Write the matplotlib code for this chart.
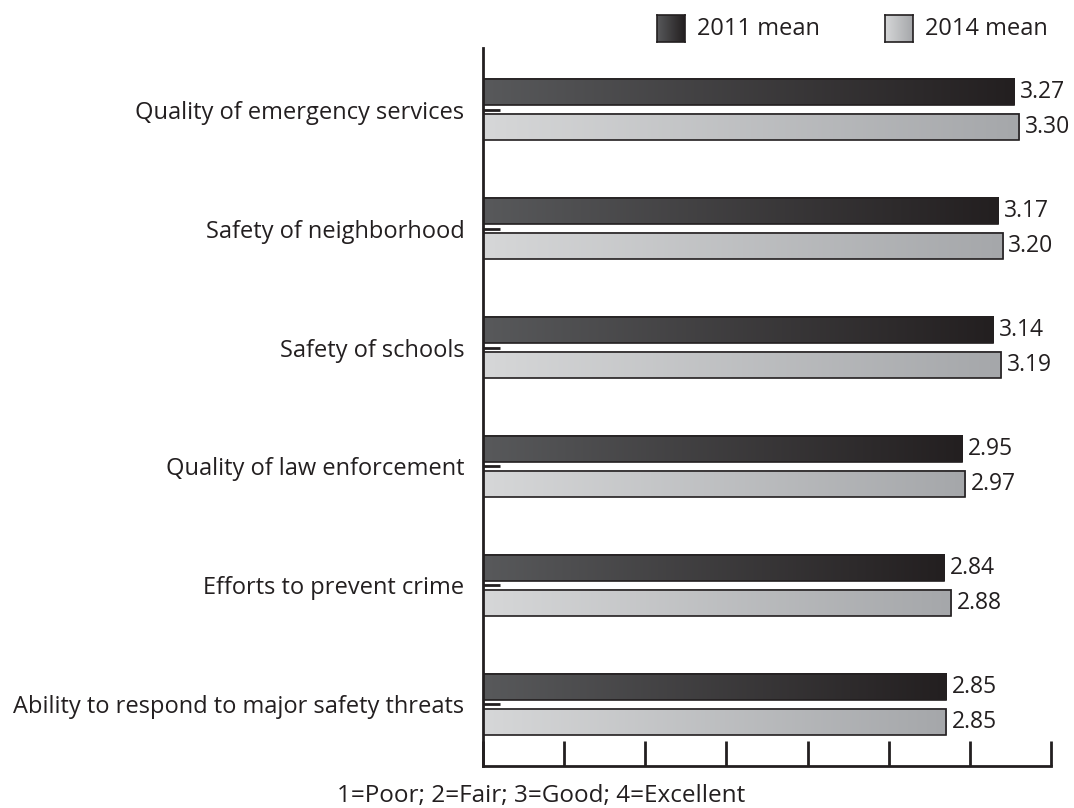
import numpy as np
import matplotlib
matplotlib.use("Agg")
import matplotlib.pyplot as plt
from matplotlib.colors import LinearSegmentedColormap

plt.rcParams['font.family'] = ['Open Sans', 'DejaVu Sans']

# datos de la encuesta
categorias = ["Quality of emergency services", "Safety of neighborhood",
              "Safety of schools", "Quality of law enforcement",
              "Efforts to prevent crime",
              "Ability to respond to major safety threats"]
media_2011 = [3.27, 3.17, 3.14, 2.95, 2.84, 2.85]
media_2014 = [3.30, 3.20, 3.19, 2.97, 2.88, 2.85]
series = ["2011 mean", "2014 mean"]

# degradados de las barras
cmap_oscuro = LinearSegmentedColormap.from_list("oscuro", ["#58595b", "#231f20"])
cmap_claro = LinearSegmentedColormap.from_list("claro", ["#d6d7d8", "#a5a7aa"])
grad = np.linspace(0, 1, 256).reshape(1, -1)

fig = plt.figure(figsize=(10.74, 8.08), dpi=100)
ax = fig.add_axes([0.4494, 0.052, 0.5296, 0.8886])

y = np.arange(len(categorias))
alto = 0.22
desp = 0.147

def barras_degradado(ax, ys, vals, cmap):
    rects = ax.barh(ys, vals, height=alto, color="none", edgecolor="#231f20",
                    linewidth=1.2, zorder=3)
    for r in rects:
        x0, y0 = r.get_x(), r.get_y()
        w, h = r.get_width(), r.get_height()
        ax.imshow(grad, cmap=cmap, aspect="auto", extent=(x0, x0 + w, y0 + h, y0),
                  zorder=2, interpolation="bicubic")
    return rects

r1 = barras_degradado(ax, y - desp, media_2011, cmap_oscuro)
r2 = barras_degradado(ax, y + desp, media_2014, cmap_claro)

# etiquetas de valor
for rects, vals in [(r1, media_2011), (r2, media_2014)]:
    for r, v in zip(rects, vals):
        ax.text(v + 0.035, r.get_y() + r.get_height() / 2, f"{v:.2f}",
                va="center", ha="left", fontsize=16.5, color="#231f20")

ax.set_xlim(0, 3.5)
ax.set_ylim(len(categorias) - 0.48, -0.52)
ax.set_xticks(np.arange(0, 3.51, 0.5))
ax.set_xticklabels([])
ax.set_yticks(y)
ax.set_yticklabels(categorias, fontsize=17, color="#231f20")
ax.tick_params(axis="x", direction="in", length=18, width=2, color="#231f20")
ax.tick_params(axis="y", direction="in", length=12, width=2, color="#231f20", pad=13)
for lado in ["top", "right"]:
    ax.spines[lado].set_visible(False)
for lado in ["left", "bottom"]:
    ax.spines[lado].set_linewidth(2)
    ax.spines[lado].set_color("#231f20")

# nota de la escala
fig.text(0.504, 0.0145, "1=Poor; 2=Fair; 3=Good; 4=Excellent", fontsize=17.5,
         color="#231f20", ha="center", va="center")

# leyenda con cuadros degradados
for xi, cmap, nombre in [(0.6117, cmap_oscuro, series[0]), (0.8240, cmap_claro, series[1])]:
    lax = fig.add_axes([xi, 0.948, 0.026, 0.033])
    lax.imshow(grad, cmap=cmap, aspect="auto")
    lax.set_xticks([])
    lax.set_yticks([])
    for s in lax.spines.values():
        s.set_linewidth(1.2)
        s.set_color("#231f20")
    fig.text(xi + 0.037, 0.9645, nombre, fontsize=17, va="center", ha="left",
             color="#231f20")

fig.savefig("out.png", dpi=100)
